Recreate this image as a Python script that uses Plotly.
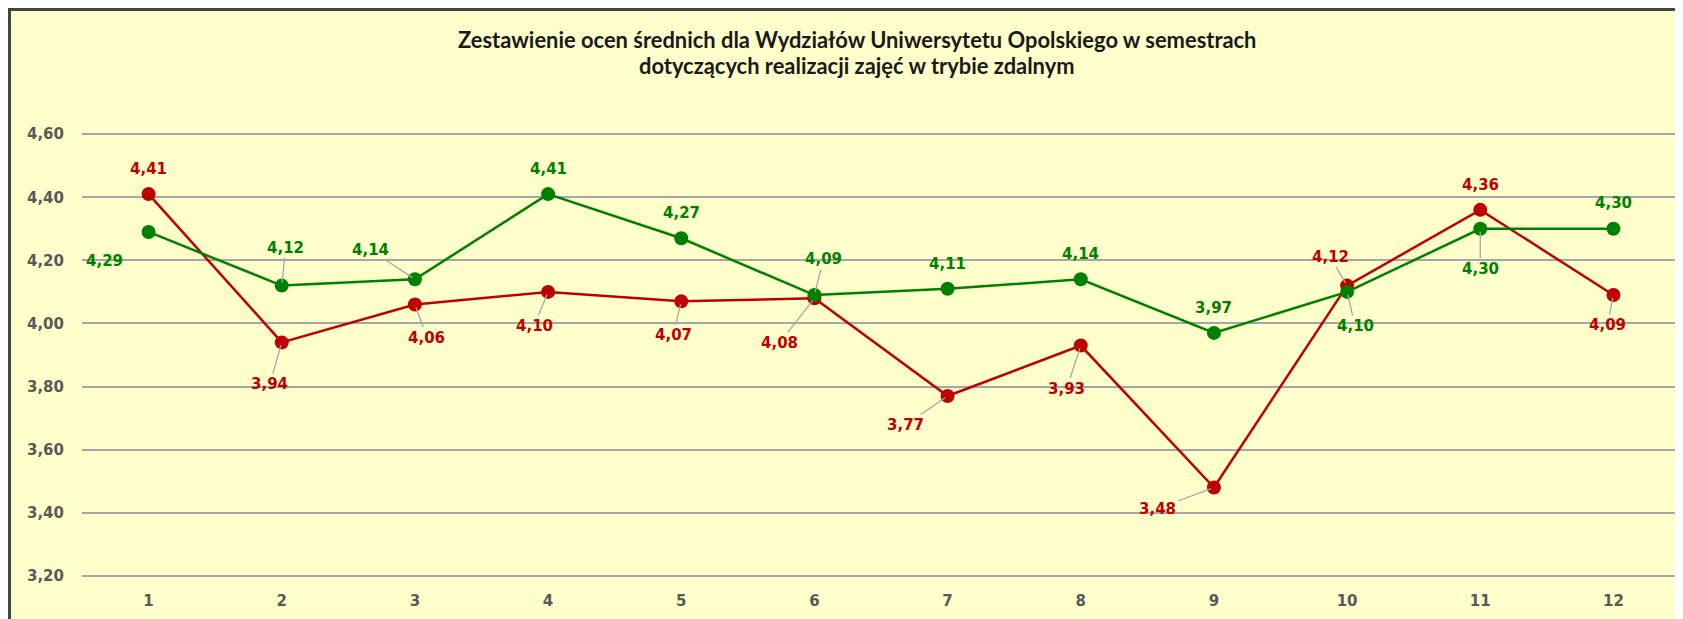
import plotly.graph_objects as go

# ---- data ----
semesters = ["1", "2", "3", "4", "5", "6", "7", "8", "9", "10", "11", "12"]
series_red = [4.41, 3.94, 4.06, 4.10, 4.07, 4.08, 3.77, 3.93, 3.48, 4.12, 4.36, 4.09]
series_green = [4.29, 4.12, 4.14, 4.41, 4.27, 4.09, 4.11, 4.14, 3.97, 4.10, 4.30, 4.30]
y_ticks = [3.20, 3.40, 3.60, 3.80, 4.00, 4.20, 4.40, 4.60]
title_lines = ["Zestawienie ocen średnich dla Wydziałów Uniwersytetu Opolskiego w semestrach",
               "dotyczących realizacji zajęć w trybie zdalnym"]

# label placement (pixel offsets from point; leader flag)
red_offsets = [(0, -25, False), (-12, 42, True), (12, 33, True), (-14, 34, True),
               (-8, 34, True), (-35, 45, True), (-42, 29, True), (-14, 43, True),
               (-56, 21, True), (-17, -29, True), (0, -25, False), (-6, 30, True)]
green_offsets = [(-44, 29, False), (4, -38, True), (-44, -29, True), (0, -25, False),
                 (0, -25, False), (9, -36, True), (0, -25, False), (0, -25, False),
                 (0, -25, False), (8, 34, True), (0, 40, True), (0, -26, False)]

RED = "#C00000"
GREEN = "#008000"
BG = "#FFFFCC"
TICK = "#595959"
LABEL_FONT = "DejaVu Sans"


def fmt(v):
    return f"{v:.2f}".replace(".", ",")


fig = go.Figure()
fig.add_trace(go.Scatter(x=semesters, y=series_red, mode="lines+markers",
                         line=dict(color=RED, width=2.5),
                         marker=dict(color=RED, size=14), showlegend=False))
fig.add_trace(go.Scatter(x=semesters, y=series_green, mode="lines+markers",
                         line=dict(color=GREEN, width=2.5),
                         marker=dict(color=GREEN, size=14), showlegend=False))

annotations = []
for vals, offs, col in ((series_red, red_offsets, RED), (series_green, green_offsets, GREEN)):
    for idx, (v, (dx, dy, leader)) in enumerate(zip(vals, offs)):
        a = dict(x=idx, y=v, xref="x", yref="y", text=fmt(v),
                 font=dict(family=LABEL_FONT, size=15, color=col, weight="bold"))
        if leader:
            a.update(showarrow=True, ax=dx, ay=dy, axref="pixel", ayref="pixel",
                     arrowhead=0, arrowwidth=1.3, arrowcolor="#A6A6A6", standoff=3)
        else:
            a.update(showarrow=False, xshift=dx, yshift=-dy)
        annotations.append(a)

for line, ypos in zip(title_lines, [1.2038, 1.1462]):
    annotations.append(dict(text=line, xref="paper", yref="paper",
                            x=0.485, y=ypos, xanchor="center", yanchor="middle",
                            showarrow=False,
                            font=dict(family="Lato", size=21.9, color="#1a1a1a", weight="bold")))

fig.update_layout(
    width=1675, height=611,
    margin=dict(l=74, r=3, t=123, b=40),
    paper_bgcolor="white",
    plot_bgcolor="rgba(0,0,0,0)",
    annotations=annotations,
    shapes=[dict(type="rect", xref="paper", yref="paper",
                 x0=-0.04537, x1=1.05, y0=-0.3, y1=1.2712,
                 fillcolor=BG, line=dict(color="#444444", width=3), layer="below")],
    xaxis=dict(type="category", range=[-0.5, 11.5], showgrid=False, zeroline=False,
               showline=False, ticks="", ticklabelstandoff=11,
               tickfont=dict(family=LABEL_FONT, size=15, color=TICK, weight="bold")),
    yaxis=dict(range=[3.19, 4.61], tickvals=y_ticks,
               ticktext=[fmt(t) for t in y_ticks],
               showgrid=True, gridcolor="#A6A6A6", gridwidth=1.5, zeroline=False,
               showline=False, ticks="", ticklabelstandoff=17,
               tickfont=dict(family=LABEL_FONT, size=15, color=TICK, weight="bold")),
)

fig.write_html("out.html")
